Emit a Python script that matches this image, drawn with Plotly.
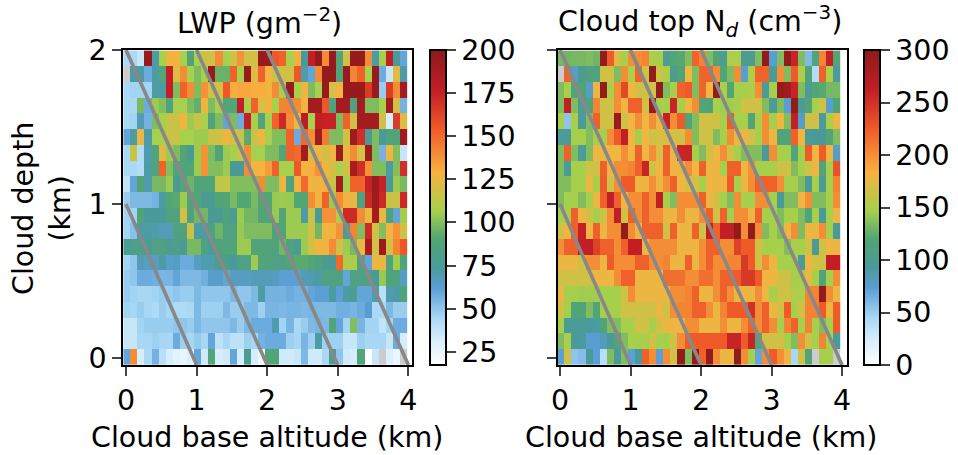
import plotly.graph_objects as go
N = None
lwp_rows_top_down = [
[44,44,36,195,72,107,127,127,107,88,107,118,118,140,107,118,138,118,118,195,195,155,152,107,130,74,176,195,140,195,88,118,195,195,140,72,107,176,74,60],
[N,72,72,58,72,90,176,122,140,107,99,107,195,95,95,152,107,195,122,152,127,118,118,118,155,70,60,140,195,195,88,195,142,152,107,195,58,36,122,72],
[44,46,46,46,72,72,176,99,152,140,99,138,118,118,155,130,132,132,130,130,127,140,107,195,107,127,99,107,195,120,127,195,195,195,165,195,48,165,140,190],
[44,44,98,58,105,100,86,107,107,99,94,127,99,107,90,90,176,107,152,120,127,107,142,142,140,127,190,190,155,86,190,190,86,190,99,99,107,190,118,56],
[44,46,68,56,99,107,116,116,127,105,116,107,88,99,60,99,58,176,107,88,107,152,172,140,127,180,107,176,175,175,99,152,118,190,190,190,118,32,165,122],
[60,72,125,72,107,107,116,116,107,107,105,105,116,118,127,118,116,92,116,127,107,100,100,152,58,150,140,192,145,99,99,118,192,170,76,99,74,88,88,192],
[44,116,42,70,88,122,105,99,90,76,105,138,99,88,105,107,116,140,107,107,99,99,90,152,150,190,120,127,118,127,192,125,140,120,192,99,56,127,100,36],
[44,44,42,72,88,152,100,88,88,88,105,138,100,100,105,76,76,140,127,128,135,152,107,107,155,127,130,138,127,118,107,118,188,170,138,100,100,72,100,170],
[38,60,90,70,98,98,105,76,90,96,88,88,88,114,114,100,100,100,100,140,99,99,125,88,127,150,127,127,130,115,190,107,152,152,175,192,175,74,105,98],
[48,54,54,54,56,72,90,92,105,88,90,78,78,88,90,98,90,90,98,90,90,104,105,104,90,90,140,127,152,105,140,127,125,86,172,192,172,116,116,172],
[46,46,88,74,74,74,86,86,118,86,97,97,76,76,86,76,105,97,97,88,88,104,90,105,105,72,116,76,138,138,110,172,172,140,125,190,125,86,60,106],
[46,52,72,72,70,68,68,84,86,116,72,72,84,96,86,86,104,99,99,99,99,86,88,105,105,105,118,97,127,127,138,76,142,100,172,118,100,127,138,118],
[78,82,82,78,84,84,78,82,76,98,98,84,76,88,88,88,105,105,88,88,88,86,97,86,76,105,118,127,127,140,118,105,98,125,188,118,192,118,142,155],
[46,50,68,66,66,72,64,66,58,58,66,70,70,80,82,74,84,84,105,88,88,84,84,88,92,92,90,86,76,76,150,108,108,86,60,125,125,86,106,88],
[48,50,58,58,57,55,55,60,54,54,54,57,64,64,60,66,66,66,68,68,68,66,62,62,62,68,70,72,84,84,84,60,84,84,84,74,104,88,86,66],
[48,46,45,45,46,48,48,50,48,48,54,50,50,50,50,54,50,50,54,72,56,56,56,58,56,56,60,62,62,72,62,72,80,60,60,70,40,70,72,88],
[46,45,48,45,43,48,45,43,43,44,54,47,47,47,54,48,48,54,54,47,55,55,54,55,55,54,55,54,54,54,57,57,55,58,64,44,44,54,48,48],
[36,36,46,48,48,48,48,50,50,48,54,50,50,50,50,54,48,54,58,58,58,70,46,55,44,48,54,55,54,88,60,46,100,55,46,46,38,46,58,58],
[36,36,45,45,47,45,45,58,47,45,49,45,60,39,45,39,39,47,45,56,58,58,58,47,45,55,47,72,47,47,47,36,36,47,45,45,45,36,58,32],
[60,140,32,44,56,40,32,28,26,30,60,34,90,32,34,60,32,78,32,24,90,90,34,34,36,54,34,34,44,78,50,34,32,90,18,36,N,30,24,N],
]
nd_rows_top_down = [
[132,130,132,132,135,130,295,225,170,147,200,200,205,150,148,100,120,122,135,220,205,135,118,100,150,150,100,100,135,295,75,135,295,258,135,60,115,205,260,120],
[N,220,78,100,112,112,165,165,135,200,150,220,165,295,165,150,100,118,180,135,220,220,200,118,135,200,75,150,220,220,95,200,135,225,150,118,40,222,150,92],
[135,147,118,118,78,178,295,150,200,235,180,165,165,165,295,135,147,220,225,135,220,180,295,150,120,147,147,150,200,96,148,292,285,258,135,95,120,122,132,132],
[135,262,135,98,118,205,165,165,200,180,222,222,165,290,147,147,258,147,180,200,120,118,147,145,145,148,165,165,165,135,98,135,75,295,96,118,147,165,75,118],
[148,55,148,96,135,222,165,165,290,165,180,200,180,200,180,260,200,225,118,135,165,165,165,147,225,148,148,118,148,200,148,180,135,262,78,165,165,92,150,178],
[96,96,147,147,135,147,148,200,225,262,180,148,180,165,168,168,168,165,200,135,165,165,135,147,200,178,178,165,148,200,178,118,118,222,180,96,94,94,118,135],
[135,222,135,96,135,180,175,180,180,200,180,222,180,200,170,222,178,258,258,147,135,165,180,200,165,147,135,135,135,94,200,147,147,118,147,225,180,225,178,78],
[135,95,147,147,165,165,222,180,200,200,205,222,258,165,180,222,178,178,200,180,222,178,178,147,222,222,180,200,147,147,147,165,165,135,147,165,178,118,147,230],
[135,135,147,147,178,147,225,165,200,225,225,178,178,200,178,200,222,180,168,168,147,178,178,178,225,148,178,200,222,222,222,200,147,147,135,96,148,96,147,205],
[135,147,147,135,147,178,222,262,222,178,200,200,222,200,262,147,135,200,200,200,222,178,165,147,135,200,147,147,200,200,147,96,135,135,180,200,135,135,147,200],
[147,147,222,178,165,147,165,200,262,165,222,200,222,200,200,178,178,200,178,178,200,222,165,222,147,200,200,178,222,147,147,135,147,147,135,118,147,94,147,178],
[165,178,222,260,178,222,178,200,200,295,200,178,222,222,222,165,222,178,178,222,165,262,222,262,262,295,200,295,200,135,147,135,178,200,135,178,178,200,147,94],
[200,222,222,262,262,240,222,222,200,222,262,262,178,200,200,200,200,178,178,178,200,222,222,200,200,240,225,225,165,147,147,147,135,147,147,165,96,165,178,178],
[178,178,178,165,200,200,178,225,200,200,200,222,222,200,200,205,178,178,222,178,200,222,200,200,205,205,245,225,165,200,178,147,147,147,96,178,165,165,262,262],
[165,165,165,165,165,178,178,178,200,222,222,178,178,178,178,215,215,215,200,200,215,215,200,222,222,225,245,245,225,178,178,165,165,147,147,178,147,118,147,200],
[178,147,147,145,145,145,147,147,147,165,200,178,178,178,178,178,200,200,205,222,178,178,200,222,200,178,178,178,200,178,147,165,165,150,150,205,205,295,200,178],
[165,147,118,118,135,118,147,147,147,165,165,165,165,165,178,165,200,205,205,222,222,200,178,205,225,225,225,250,200,222,178,165,225,147,165,205,205,225,178,225],
[147,96,96,96,92,90,118,135,135,147,147,165,165,147,165,178,178,178,200,200,178,178,178,200,178,178,200,222,200,222,200,147,205,222,147,205,147,135,147,225],
[135,147,94,92,75,75,82,94,118,135,147,147,147,165,147,147,165,200,225,225,225,225,225,225,258,258,225,258,118,165,165,165,147,135,200,165,147,205,147,94],
[73,165,55,58,94,73,38,135,94,135,73,94,222,200,73,200,165,295,135,295,222,295,200,178,178,295,200,147,70,200,225,200,178,45,165,118,N,147,147,N],
]
for rows in (lwp_rows_top_down, nd_rows_top_down):
    assert len(rows) == 20 and all(len(r) == 40 for r in rows), [len(r) for r in rows]

lwp = lwp_rows_top_down[::-1]
nd = nd_rows_top_down[::-1]
base_edges = [-0.04 + 0.1005 * i for i in range(41)]
depth_edges = [-0.046 + 0.1021 * i for i in range(21)]
guide_lines = [([0, 1], [1, -0.046]), ([0, 2], [2, -0.046]), ([1, 3], [2, -0.046]), ([2, 4], [2, -0.046])]
lwp_ticks = [25, 50, 75, 100, 125, 150, 175, 200]
nd_ticks = [0, 50, 100, 150, 200, 250, 300]

W, H = 958, 455
def fx(px): return px / W
def fy(py): return 1 - py / H
FONT = "DejaVu Sans"
FS = 28.5
cscale = [[0, "#ffffff"], [0.08, "#d6eefb"], [0.15, "#a8d8f5"], [0.243, "#5b9fd6"], [0.31, "#4a9a9a"],
          [0.40, "#52a574"], [0.49, "#a6d04c"], [0.61, "#f8b240"], [0.75, "#ef5a28"], [0.87, "#c41e26"], [1, "#8b1a1a"]]

fig = go.Figure()
def missing_mask(z):
    return [[1 if v is None else None for v in r] for r in z]

def panel(z, xa, ya, zmin, zmax, ticks, cbx):
    fig.add_trace(go.Heatmap(z=missing_mask(z), x=base_edges, y=depth_edges, xaxis=xa, yaxis=ya, showscale=False,
                             colorscale=[[0, "#cccccc"], [1, "#cccccc"]], hoverinfo="skip"))
    fig.add_trace(go.Heatmap(z=z, x=base_edges, y=depth_edges, xaxis=xa, yaxis=ya, zmin=zmin, zmax=zmax,
                             colorscale=cscale,
                             colorbar=dict(x=fx(cbx), xanchor="left", xpad=0, y=fy(50), yanchor="top", ypad=0,
                                           len=315 / H, thickness=16, outlinewidth=2, outlinecolor="black",
                                           tickmode="array", tickvals=ticks, ticks="outside", ticklen=9, tickwidth=2,
                                           tickfont=dict(family=FONT, size=FS, color="black"))))
    for lx, ly in guide_lines:
        fig.add_trace(go.Scatter(x=lx, y=ly, xaxis=xa, yaxis=ya, mode="lines", showlegend=False,
                                 line=dict(color="#888888", width=3.6), hoverinfo="skip"))

panel(lwp, "x", "y", 17.3, 200, lwp_ticks, 430)
panel(nd, "x2", "y2", 0, 300, nd_ticks, 864)

ax = dict(showline=True, linewidth=2, linecolor="black", mirror=True, ticks="outside", ticklen=9, tickwidth=2,
          showgrid=False, zeroline=False, tickmode="array", tickfont=dict(family=FONT, size=FS, color="black"))
fig.update_layout(
    width=W, height=H, margin=dict(l=0, r=0, t=0, b=0, autoexpand=False), paper_bgcolor="white", plot_bgcolor="white",
    showlegend=False, font=dict(family=FONT, size=FS, color="black"),
    xaxis=dict(ax, domain=[fx(123.3), fx(411.7)], range=[-0.038, 4.047], tickvals=[0, 1, 2, 3, 4]),
    yaxis=dict(ax, domain=[fy(365), fy(50)], range=[-0.046, 2.0], tickvals=[0, 1, 2]),
    xaxis2=dict(ax, domain=[fx(557.7), fx(846.7)], range=[-0.033, 4.066], tickvals=[0, 1, 2, 3, 4]),
    yaxis2=dict(ax, domain=[fy(365), fy(50)], range=[-0.046, 2.0], tickvals=[0, 1, 2], showticklabels=False, anchor="x2"),
)
def label(text, px, py, angle=0):
    fig.add_annotation(text=text, x=fx(px), y=fy(py), xref="paper", yref="paper", showarrow=False,
                       textangle=angle, xanchor="center", yanchor="middle", font=dict(family=FONT, size=FS, color="black"))
label("LWP (gm<sup>−2</sup>)", 259, 21)
label("Cloud top N<sub><i>d</i></sub> (cm<sup>−3</sup>)", 700, 21)
label("Cloud base altitude (km)", 267, 437)
label("Cloud base altitude (km)", 701, 437)
label("Cloud depth<br>(km)", 42, 209, -90)
fig.write_html("out.html", config={"displayModeBar": False}, post_script="document.body.style.margin='0';")
